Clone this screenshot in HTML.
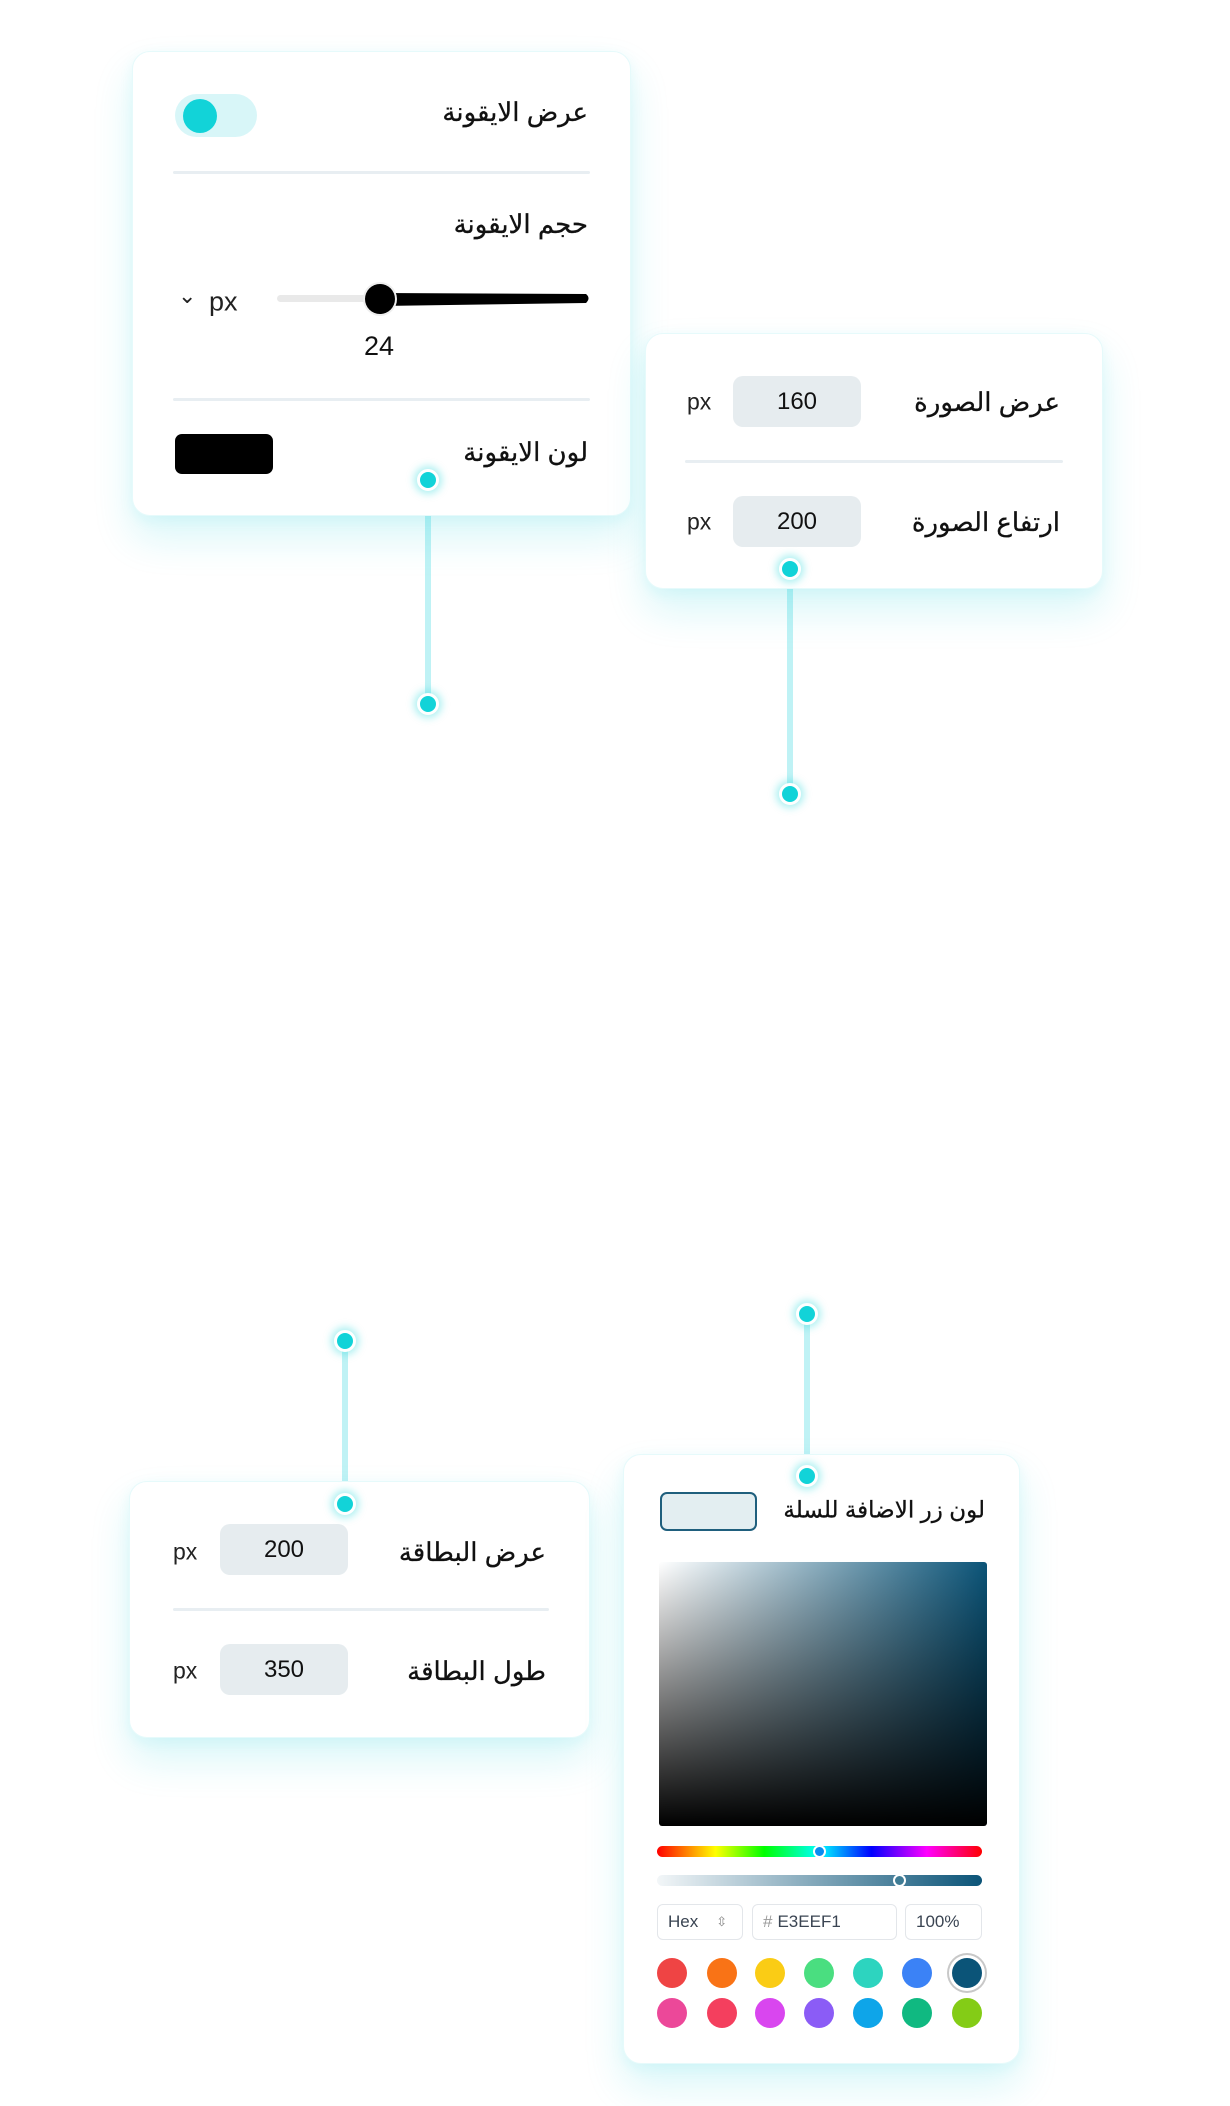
<!DOCTYPE html>
<html><head><meta charset="utf-8">
<style>
*{margin:0;padding:0;box-sizing:border-box}
body{width:1230px;height:2106px;background:#fff;position:relative;overflow:hidden;font-family:"Liberation Sans","Noto Sans CJK SC",sans-serif;color:#111}
.card{position:absolute;background:#fff;border-radius:18px;border:1px solid #e6fafb;box-shadow:0 22px 40px rgba(20,205,220,0.16),0 4px 14px rgba(20,205,220,0.08)}
.abs{position:absolute}
.ar{position:absolute;font-size:26px;direction:rtl;white-space:nowrap;line-height:1;transform:translateY(-50%);-webkit-text-stroke:0.3px #111}
.div{position:absolute;height:3px;background:#e8eef2;border-radius:2px}
.inp{position:absolute;background:#e6ecef;border-radius:10px;font-size:24px;display:flex;align-items:center;justify-content:center}
.px{position:absolute;font-size:23px;color:#222;transform:translateY(-50%)}
.line{position:absolute;width:6px;background:#bff2f5;margin-left:-3px}
.dot{position:absolute;width:22px;height:22px;margin:-11px 0 0 -11px;border-radius:50%;background:#12d3d8;border:3px solid #fff;box-shadow:0 0 8px 3px rgba(18,211,216,0.35)}
.sw{position:absolute;width:30px;height:30px;margin:-15px 0 0 -15px;border-radius:50%}
.box{position:absolute;border:1.5px solid #e3e6ea;border-radius:6px;font-size:17px;color:#3a4452;display:flex;align-items:center;padding-left:10px;top:1904px;height:36px}
</style></head><body>

<div class="line" style="left:428px;top:480px;height:224px"></div>
<div class="line" style="left:790px;top:569px;height:225px"></div>
<div class="line" style="left:345px;top:1341px;height:163px"></div>
<div class="line" style="left:807px;top:1314px;height:162px"></div>

<div class="card" style="left:132px;top:51px;width:499px;height:465px"></div>
<div class="abs" style="left:175px;top:94px;width:82px;height:43px;border-radius:22px;background:#d8f6f8"></div>
<div class="abs" style="left:183px;top:99px;width:34px;height:34px;border-radius:50%;background:#12d3d8"></div>
<div class="ar" style="right:642px;top:112px">عرض الايقونة</div>
<div class="div" style="left:173px;top:171px;width:417px"></div>
<div class="ar" style="right:642px;top:224px">حجم الايقونة</div>
<div class="abs" style="left:178px;top:296px;font-size:22px;color:#222;line-height:1;transform:translateY(-50%)">⌄</div>
<div class="px" style="left:209px;top:302px;font-size:27px">px</div>
<div class="abs" style="left:277px;top:295px;width:110px;height:7px;background:#e9e9e9;border-radius:4px"></div>
<svg class="abs" style="left:362px;top:281px" width="232" height="36"><path d="M18 12 L224 13 Q229 17 224 22 L18 25 Z" fill="#000"/><circle cx="18" cy="18" r="17" fill="#eee"/><circle cx="18" cy="18" r="15" fill="#000"/></svg>
<div class="abs" style="left:364px;top:331px;font-size:27px">24</div>
<div class="div" style="left:173px;top:398px;width:417px"></div>
<div class="ar" style="right:642px;top:452px">لون الايقونة</div>
<div class="abs" style="left:175px;top:434px;width:98px;height:40px;background:#000;border-radius:7px"></div>

<div class="card" style="left:645px;top:333px;width:458px;height:256px"></div>
<div class="ar" style="right:170px;top:402px">عرض الصورة</div>
<div class="inp" style="left:733px;top:376px;width:128px;height:51px">160</div>
<div class="px" style="left:687px;top:402px">px</div>
<div class="div" style="left:685px;top:460px;width:378px"></div>
<div class="ar" style="right:170px;top:522px">ارتفاع الصورة</div>
<div class="inp" style="left:733px;top:496px;width:128px;height:51px">200</div>
<div class="px" style="left:687px;top:522px">px</div>

<div class="card" style="left:129px;top:1481px;width:461px;height:257px"></div>
<div class="ar" style="right:684px;top:1552px">عرض البطاقة</div>
<div class="inp" style="left:220px;top:1524px;width:128px;height:51px">200</div>
<div class="px" style="left:173px;top:1552px">px</div>
<div class="div" style="left:173px;top:1608px;width:376px"></div>
<div class="ar" style="right:684px;top:1671px">طول البطاقة</div>
<div class="inp" style="left:220px;top:1644px;width:128px;height:51px">350</div>
<div class="px" style="left:173px;top:1671px">px</div>

<div class="card" style="left:623px;top:1454px;width:397px;height:610px"></div>
<div class="ar" style="right:245px;top:1510px;font-size:23px">لون زر الاضافة للسلة</div>
<div class="abs" style="left:660px;top:1492px;width:97px;height:39px;border:2px solid #1f5f7d;background:#e3eef1;border-radius:7px"></div>
<div class="abs" style="left:659px;top:1562px;width:328px;height:264px;border-radius:3px;background:linear-gradient(to bottom,rgba(0,0,0,0),#000),linear-gradient(to right,#fff,#0b5478)"></div>
<div class="abs" style="left:657px;top:1846px;width:325px;height:11px;border-radius:6px;background:linear-gradient(to right,#f00,#ff0 18%,#0f0 33%,#0ff 50%,#00f 66%,#f0f 83%,#f00)"></div>
<div class="abs" style="left:813px;top:1845px;width:13px;height:13px;border-radius:50%;background:#0a8cf0;border:2.5px solid #fff"></div>
<div class="abs" style="left:657px;top:1875px;width:325px;height:11px;border-radius:6px;background:linear-gradient(to right,rgba(11,84,120,0.05),#0b5478)"></div>
<div class="abs" style="left:893px;top:1874px;width:13px;height:13px;border-radius:50%;background:#3f7c95;border:2.5px solid #fff"></div>
<div class="box" style="left:657px;width:86px">Hex<span style="margin-left:18px;font-size:13px;color:#888">⇳</span></div>
<div class="box" style="left:752px;width:145px"><span style="color:#999;margin-right:5px">#</span>E3EEF1</div>
<div class="box" style="left:905px;width:77px">100%</div>

<div class="sw" style="left:672px;top:1973px;background:#ef4444"></div>
<div class="sw" style="left:722px;top:1973px;background:#f97316"></div>
<div class="sw" style="left:770px;top:1973px;background:#facc15"></div>
<div class="sw" style="left:819px;top:1973px;background:#4ade80"></div>
<div class="sw" style="left:868px;top:1973px;background:#2dd4bf"></div>
<div class="sw" style="left:917px;top:1973px;background:#3b82f6"></div>
<div class="sw" style="left:967px;top:1973px;background:#0b5478;box-shadow:0 0 0 3px #fff,0 0 0 5px #c8c8c8"></div>
<div class="sw" style="left:672px;top:2013px;background:#ec4899"></div>
<div class="sw" style="left:722px;top:2013px;background:#f43f5e"></div>
<div class="sw" style="left:770px;top:2013px;background:#d946ef"></div>
<div class="sw" style="left:819px;top:2013px;background:#8b5cf6"></div>
<div class="sw" style="left:868px;top:2013px;background:#0ea5e9"></div>
<div class="sw" style="left:917px;top:2013px;background:#10b981"></div>
<div class="sw" style="left:967px;top:2013px;background:#84cc16"></div>

<div class="dot" style="left:428px;top:480px"></div>
<div class="dot" style="left:428px;top:704px"></div>
<div class="dot" style="left:790px;top:569px"></div>
<div class="dot" style="left:790px;top:794px"></div>
<div class="dot" style="left:345px;top:1341px"></div>
<div class="dot" style="left:345px;top:1504px"></div>
<div class="dot" style="left:807px;top:1314px"></div>
<div class="dot" style="left:807px;top:1476px"></div>
</body></html>
